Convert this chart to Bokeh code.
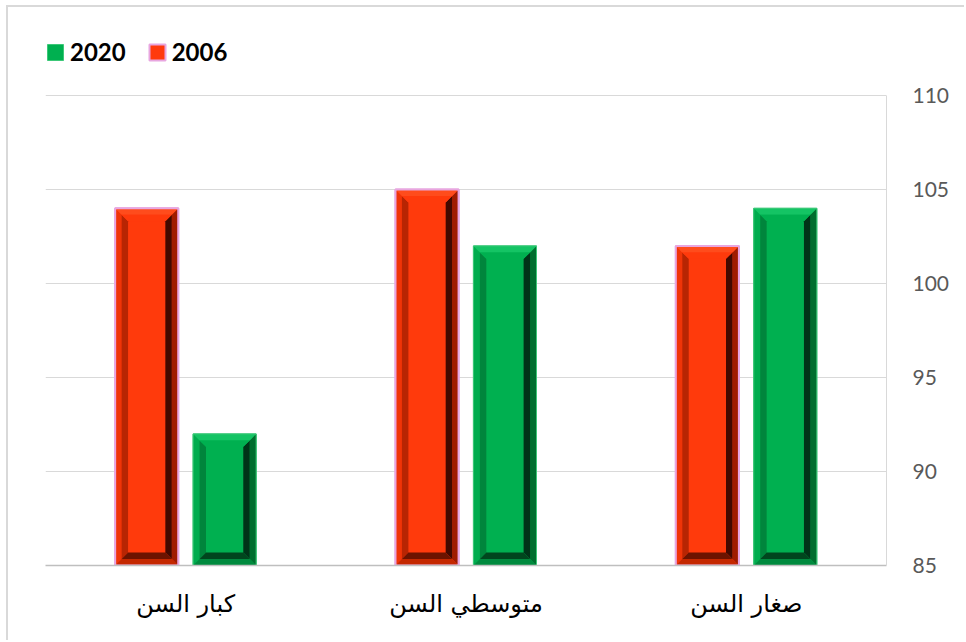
import numpy as np
from bokeh.plotting import figure
from bokeh.models import Legend, LegendItem, FixedTicker, Range1d
from bokeh.embed import file_html
from bokeh.resources import INLINE

# ---- data ----
categories = ["كبار السن", "متوسطي السن", "صغار السن"]
values_2006 = [104, 105, 102]
values_2020 = [92, 102, 104]
y_ticks = [85, 90, 95, 100, 105, 110]
y_min, y_max = 85, 110

# ---- layout / style ----
W, H = 958, 635
frame_left, frame_top, frame_right, frame_bottom = 37, 23, 878, 558
grid_top = 88  # pixel row of the 110 gridline inside the figure
px_per_unit = (frame_bottom - grid_top) / (y_max - y_min)
range_top = y_min + (frame_bottom - frame_top) / px_per_unit

bar_w = 0.225
offset = 0.139
bevel_dx = 0.046
bevel_dy = 0.69

p = figure(width=W, height=H, output_backend="svg", toolbar_location=None,
           x_range=Range1d(-0.5, len(categories) - 0.5),
           y_range=Range1d(y_min, range_top),
           y_axis_location="right",
           min_border_left=frame_left, min_border_top=frame_top,
           min_border_right=W - frame_right, min_border_bottom=H - frame_bottom)
p.outline_line_color = None
p.background_fill_color = "white"
p.border_fill_color = "white"
p.styles = {"margin-left": "6px", "margin-top": "5px",
            "border-left": "2px solid #d9d9d9", "border-top": "2px solid #d9d9d9"}

xs = np.arange(len(categories))
x_red = xs - offset
x_green = xs + offset

red_face = "#ff3a0c"
green_face = "#00b050"
red_edge = "#e8a6e0"
green_edge = "#3cc878"

r_bar = p.vbar(x=x_red, top=values_2006, bottom=y_min, width=bar_w,
               fill_color=red_face, line_color=red_edge, line_width=2)
g_bar = p.vbar(x=x_green, top=values_2020, bottom=y_min, width=bar_w,
               fill_color=green_face, line_color=green_edge, line_width=1)


def bevel_polys(xc, top, base, t0, t1):
    x0, x1 = xc - bar_w / 2, xc + bar_w / 2
    L0, L1 = x0 + t0 * bevel_dx, x0 + t1 * bevel_dx
    R0, R1 = x1 - t0 * bevel_dx, x1 - t1 * bevel_dx
    B0, B1 = base + t0 * bevel_dy, base + t1 * bevel_dy
    T0, T1 = top - t0 * bevel_dy, top - t1 * bevel_dy
    return {
        "left": ([L0, L0, L1, L1], [B0, T0, T1, B1]),
        "right": ([R0, R0, R1, R1], [B0, T0, T1, B1]),
        "top": ([L0, R0, R1, L1], [T0, T0, T1, T1]),
        "bottom": ([L0, R0, R1, L1], [B0, B0, B1, B1]),
    }


red_cols = {
    ("left", 0): "#f03408", ("left", 1): "#b82503",
    ("right", 0): "#a01c00", ("right", 1): "#420900",
    ("top", 0): "#ff4c1c", ("top", 1): "#ff3a0c",
    ("bottom", 0): "#c42800", ("bottom", 1): "#6c1300",
}
green_cols = {
    ("left", 0): "#00ac4e", ("left", 1): "#00853c",
    ("right", 0): "#006e2e", ("right", 1): "#003318",
    ("top", 0): "#14c464", ("top", 1): "#00b050",
    ("bottom", 0): "#008a3e", ("bottom", 1): "#00461e",
}

for xarr, vals, cols in ((x_red, values_2006, red_cols), (x_green, values_2020, green_cols)):
    for band, (t0, t1) in enumerate(((0.0, 0.5), (0.5, 1.0))):
        for side in ("left", "right", "top", "bottom"):
            pxs, pys = [], []
            for xc, v in zip(xarr, vals):
                px, py = bevel_polys(xc, v, y_min, t0, t1)[side]
                pxs.append(px)
                pys.append(py)
            p.patches(pxs, pys, fill_color=cols[(side, band)], line_color=None)

# borders on top
p.vbar(x=x_red, top=values_2006, bottom=y_min, width=bar_w,
       fill_color=None, line_color=red_edge, line_width=2)
p.vbar(x=x_green, top=values_2020, bottom=y_min, width=bar_w,
       fill_color=None, line_color=green_edge, line_width=1)

# ---- axes ----
p.xaxis.ticker = FixedTicker(ticks=list(xs))
p.xaxis.major_label_overrides = {int(i): c for i, c in zip(xs, categories)}
p.xaxis.major_tick_line_color = None
p.xaxis.minor_tick_line_color = None
p.xaxis.axis_line_color = "#bfbfbf"
p.xaxis.axis_line_width = 1.5
p.xaxis.major_label_text_font = "DejaVu Sans"
p.xaxis.major_label_text_font_size = "24px"
p.xaxis.major_label_text_color = "black"
p.xaxis.major_label_standoff = 18

p.yaxis.ticker = FixedTicker(ticks=y_ticks)
p.yaxis.bounds = (y_min, y_max)
p.yaxis.major_tick_line_color = None
p.yaxis.minor_tick_line_color = None
p.yaxis.axis_line_color = "#d9d9d9"
p.yaxis.major_label_text_font = "Lato"
p.yaxis.major_label_text_font_size = "21px"
p.yaxis.major_label_text_color = "#595959"
p.yaxis.major_label_standoff = 20

p.xgrid.grid_line_color = None
p.ygrid.grid_line_color = "#d9d9d9"
p.ygrid.ticker = FixedTicker(ticks=y_ticks[1:])

# ---- legend ----
legend = Legend(items=[LegendItem(label="2020", renderers=[g_bar]),
                       LegendItem(label="2006", renderers=[r_bar])],
                orientation="horizontal", location=(0, 499),
                border_line_color=None, background_fill_alpha=0,
                label_text_font="Lato", label_text_font_size="24px",
                label_text_font_style="bold", label_text_color="black",
                glyph_width=20, glyph_height=20, label_height=20,
                spacing=21, label_standoff=5, padding=0, margin=0)
p.add_layout(legend, "center")

open("out.html", "w").write(file_html(p, INLINE))
